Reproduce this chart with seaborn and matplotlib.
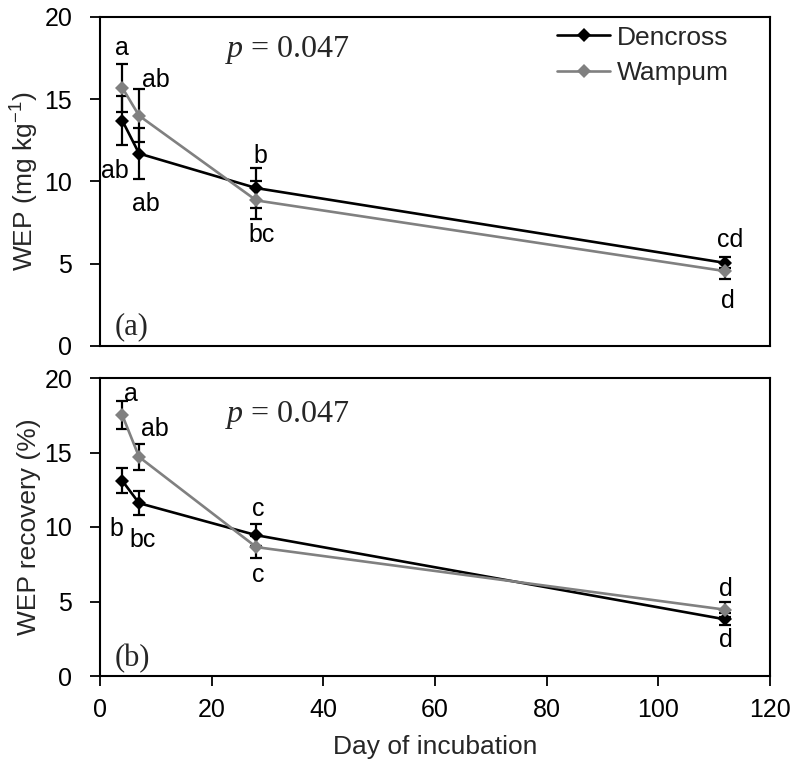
import matplotlib
matplotlib.use("Agg")
import matplotlib.pyplot as plt
import seaborn as sns
import pandas as pd

# ---- data ----
days = [4, 7, 28, 112]
cultivars = ["Dencross", "Wampum"]

wep_dencross = [13.7, 11.7, 9.6, 5.05]
wep_dencross_err = [1.5, 1.55, 1.2, 0.33]
wep_wampum = [15.7, 14.0, 8.85, 4.55]
wep_wampum_err = [1.45, 1.6, 1.15, 0.5]

rec_dencross = [13.1, 11.6, 9.45, 3.8]
rec_dencross_err = [0.85, 0.8, 0.75, 0.4]
rec_wampum = [17.5, 14.7, 8.65, 4.45]
rec_wampum_err = [0.95, 0.9, 0.75, 0.5]

wep_dencross_letters = ["ab", "ab", "b", "cd"]
wep_wampum_letters = ["a", "ab", "bc", "d"]
rec_dencross_letters = ["b", "bc", "c", "d"]
rec_wampum_letters = ["a", "ab", "c", "d"]

p_text = "0.047"
x_ticks = [0, 20, 40, 60, 80, 100, 120]
y_ticks = [0, 5, 10, 15, 20]

# label offsets in pixels (dx, dy; dy positive = down in image)
wep_den_off = [(-7, 50), (7, 50), (4, -32), (5, -23)]
wep_wam_off = [(0, -40), (17, -36), (5, 35), (3, 30)]
rec_den_off = [(-6, 48), (4, 37), (2, -26), (1, 21)]
rec_wam_off = [(9, -21), (16, -28), (2, 28), (1, -21)]

sns.set_theme(style="ticks")
plt.rcParams["font.family"] = ["Liberation Sans", "DejaVu Sans"]
plt.rcParams["mathtext.fontset"] = "custom"
plt.rcParams["mathtext.it"] = "Liberation Serif:italic"
plt.rcParams["mathtext.rm"] = "Liberation Sans"
plt.rcParams["mathtext.default"] = "regular"

FS_TICK = 18
FS_LAB = 19
FS_LET = 18
colors = {"Dencross": "black", "Wampum": "#808080"}

fig = plt.figure(figsize=(7.96, 7.65), dpi=100)
W, H = 796, 765
ax1 = fig.add_axes([100 / W, 1 - 346 / H, 670 / W, 329 / H])
ax2 = fig.add_axes([100 / W, 1 - 676 / H, 670 / W, 298 / H])


def panel(ax, den, den_err, wam, wam_err, den_lab, wam_lab, den_off, wam_off, tag, ylabel, legend, p_y):
    df = pd.DataFrame({
        "day": days * 2,
        "value": den + wam,
        "err": den_err + wam_err,
        "cultivar": ["Dencross"] * len(days) + ["Wampum"] * len(days),
    })
    for cv in cultivars:
        sub = df[df.cultivar == cv]
        ax.errorbar(sub["day"], sub["value"], yerr=sub["err"], fmt="none",
                    ecolor="black", elinewidth=1.6, capsize=4.2, capthick=1.6, zorder=2)
    sns.lineplot(data=df, x="day", y="value", hue="cultivar", palette=colors,
                 hue_order=cultivars, marker="D", markersize=7, markeredgewidth=0,
                 linewidth=1.9, ax=ax, legend=legend, zorder=3)
    for lab_list, off_list, vals in ((den_lab, den_off, den), (wam_lab, wam_off, wam)):
        for d, v, lab, (dx, dy) in zip(days, vals, lab_list, off_list):
            ax.annotate(lab, (d, v), xytext=(dx, -dy), textcoords="offset pixels",
                        ha="center", va="center", fontsize=FS_LET, color="black", zorder=5)
    ax.text(0.186, p_y, r"$\mathit{p}$ = " + p_text, transform=ax.transAxes,
            family=["Liberation Serif"], fontsize=23, ha="left", va="center")
    ax.text(0.022, 0.06, tag, transform=ax.transAxes, family=["Liberation Serif"],
            fontsize=22, ha="left", va="center")
    ax.set_xlim(0, 120)
    ax.set_ylim(0, 20)
    ax.set_yticks(y_ticks)
    ax.set_xticks(x_ticks)
    ax.set_ylabel(ylabel, fontsize=FS_LAB)
    ax.yaxis.set_label_coords(-0.088, 0.5)
    ax.tick_params(axis="both", direction="out", length=7, width=1.3, labelsize=FS_TICK,
                   colors="black")
    ax.tick_params(axis="y", pad=13)
    ax.tick_params(axis="x", pad=9)
    for s in ax.spines.values():
        s.set_visible(True)
        s.set_linewidth(1.5)
        s.set_color("black")


panel(ax1, wep_dencross, wep_dencross_err, wep_wampum, wep_wampum_err,
      wep_dencross_letters, wep_wampum_letters, wep_den_off, wep_wam_off,
      "(a)", r"WEP (mg kg$^{\mathregular{-1}}$)", True, 0.9)
panel(ax2, rec_dencross, rec_dencross_err, rec_wampum, rec_wampum_err,
      rec_dencross_letters, rec_wampum_letters, rec_den_off, rec_wam_off,
      "(b)", "WEP recovery (%)", False, 0.876)

ax1.set_xlabel("")
ax1.tick_params(axis="x", bottom=False, labelbottom=False)
ax2.set_xlabel("Day of incubation", fontsize=FS_LAB, labelpad=9)

leg = ax1.legend(loc="upper left", bbox_to_anchor=(0.655, 1.03), frameon=False,
                 fontsize=FS_LAB, handlelength=2.0, handletextpad=0.27, borderpad=0.2,
                 labelspacing=0.45, title=None)

fig.savefig("out.png", dpi=100)
